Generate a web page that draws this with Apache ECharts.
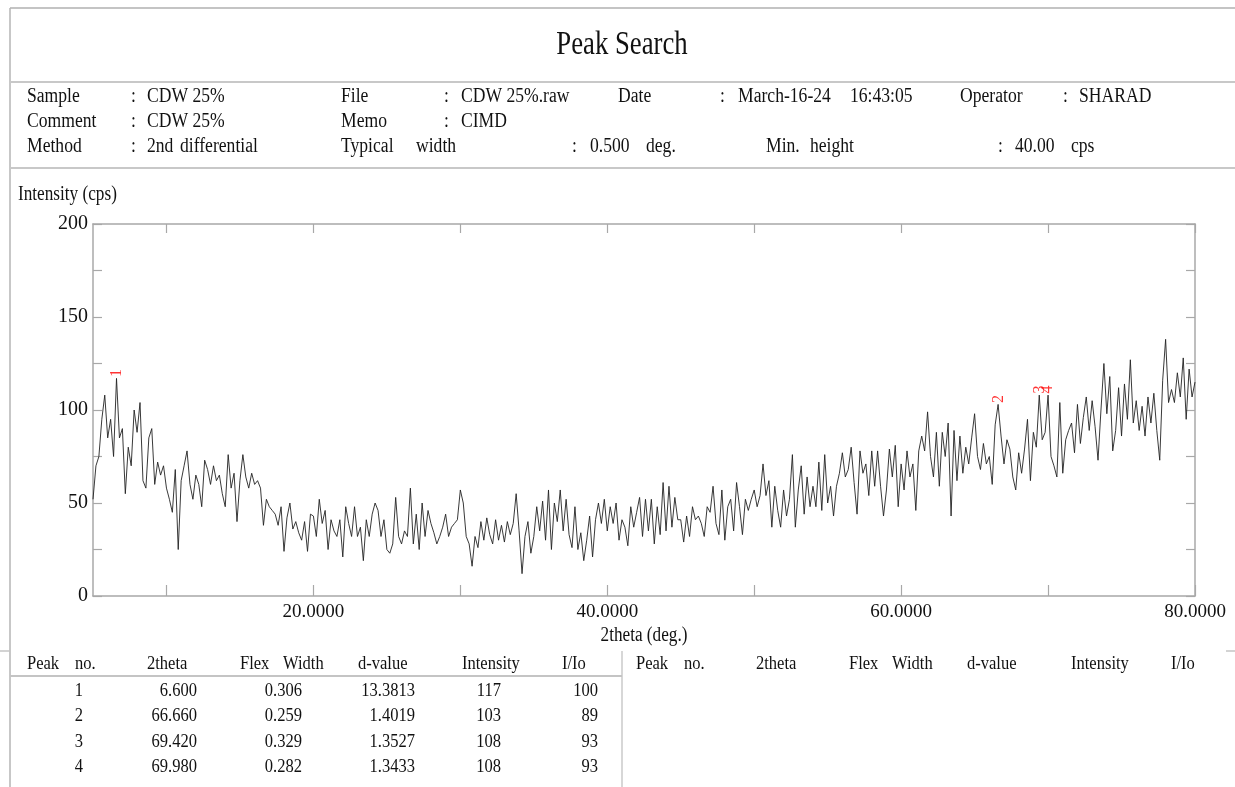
<!DOCTYPE html>
<html>
<head>
<meta charset="utf-8">
<script src="https://cdn.jsdelivr.net/npm/echarts@6/dist/echarts.min.js"></script>
<style>
html,body{margin:0;padding:0;background:#fff;}
#chart{width:1235px;height:787px;}
</style>
</head>
<body>
<div id="chart"></div>
<script>
// ---- data (2theta from 5.0 deg, step 0.2 deg) ----
const xStart = 5.0;
const xStep = 0.2;
const seg05 = [52,70,75,95,108,85,95,75,117,85,90,55,80,70,100,88,104,62,58,85,90,60,72,65,70];
const seg10 = [58,52,45,68,25,62,70,78,60,52,65,60,48,73,68,60,70,62,65,55,48,76,58,66,40];
const seg15 = [62,76,64,58,66,60,62,58,38,52,48,46,44,38,48,24,42,50,36,40,34,30,40,24,44];
const seg20 = [43,32,52,39,46,25,41,35,32,41,21,48,39,32,48,32,37,19,41,32,44,50,46,32,41];
const seg25 = [25,23,28,53,32,28,35,32,58,28,44,25,50,32,46,39,34,28,32,37,44,32,37,39,41];
const seg30 = [57,50,32,28,16,32,26,40,30,42,33,28,41,30,38,29,40,33,39,55,35,12,32,40,23];
const seg35 = [32,48,35,51,30,57,25,50,40,57,35,52,33,26,48,25,34,19,30,43,21,41,50,39,52];
const seg40 = [35,48,39,50,30,41,37,27,48,37,45,53,32,52,35,52,28,48,33,61,35,59,37,53,41];
const seg45 = [41,29,43,32,48,41,43,39,32,48,45,59,39,33,57,30,48,52,35,61,48,33,52,46,52];
const seg50 = [57,48,54,71,54,62,37,59,46,37,57,43,52,76,37,57,70,44,64,48,59,48,72,46,76];
const seg55 = [50,59,43,59,66,77,64,68,80,61,44,78,66,71,54,78,59,78,59,43,57,79,64,81,48];
const seg60 = [71,57,78,64,71,46,78,86,78,99,75,64,88,59,88,75,93,43,89,62,86,66,80,71,85];
const seg65 = [98,75,68,82,71,75,60,92,103,86,71,84,79,64,57,77,66,79,95,62,88,80,108,84,88];
const seg70 = [108,75,70,64,104,66,84,89,93,77,103,82,96,107,89,105,91,73,100,125,98,118,78,89,112];
const seg75 = [86,114,95,127,93,105,89,102,86,107,93,109,89,73,116,138,104,111,104,120,107,128,95,122,107,115];

// peak table
const peakNo = [1, 2, 3, 4];
const peak2theta = [6.600, 66.660, 69.420, 69.980];
const flexWidth = [0.306, 0.259, 0.329, 0.282];
const dValue = [13.3813, 1.4019, 1.3527, 1.3433];
const peakIntensity = [117, 103, 108, 108];
const peakIIo = [100, 89, 93, 93];

// axis ticks / labels
const xLabelValues = [20, 40, 60, 80];
const xTickValues = [10, 20, 30, 40, 50, 60, 70, 80];
const yLabelValues = [0, 50, 100, 150, 200];
const yTickValues = [0, 25, 50, 75, 100, 125, 150, 175, 200];

const values = [].concat(seg05, seg10, seg15, seg20, seg25, seg30, seg35, seg40, seg45, seg50, seg55, seg60, seg65, seg70, seg75);
const lineData = values.map((v, i) => [Math.round((xStart + i * xStep) * 100) / 100, v]);
const peakData = peakNo.map((n, i) => [peak2theta[i], peakIntensity[i], n]);

// ---- layout helpers ----
const FONT = '"Liberation Serif", "Times New Roman", serif';
const G = [];
function txt(text, x, y, size, opts) {
  opts = opts || {};
  G.push({
    type: 'text', x: x, y: y, scaleX: opts.sx || 0.88, silent: true,
    style: {
      text: text, fill: '#111', font: size + 'px ' + FONT,
      textAlign: opts.align || 'left', textVerticalAlign: 'middle'
    }
  });
}
function line(x1, y1, x2, y2, c, w) {
  G.push({ type: 'line', silent: true, shape: { x1, y1, x2, y2 }, style: { stroke: c || '#bdbdbd', lineWidth: w || 1.5 } });
}

// frame lines
line(10, 8, 1235, 8, '#c4c4c4', 2);
line(10, 8, 10, 787, '#b5b5b5', 1.5);
line(10, 82, 1235, 82, '#c8c8c8', 2);
line(10, 168, 1235, 168, '#c8c8c8', 2);
line(0, 651, 10, 651, '#c4c4c4', 1.5);
line(1226, 651, 1235, 651, '#c4c4c4', 1.5);
line(622, 651, 622, 787, '#bdbdbd', 1.2);
line(10, 676, 622, 676, '#c4c4c4', 2);

// title
txt('Peak Search', 622, 45, 33, { align: 'center', sx: 0.81 });

// header block
const hs = 20;
const rowY = [97, 122, 147];
[
  ['Sample', 27, 0], [':', 131, 0], ['CDW 25%', 147, 0],
  ['File', 341, 0], [':', 444, 0], ['CDW 25%.raw', 461, 0],
  ['Date', 618, 0], [':', 720, 0], ['March-16-24', 738, 0], ['16:43:05', 850, 0],
  ['Operator', 960, 0], [':', 1063, 0], ['SHARAD', 1079, 0],
  ['Comment', 27, 1], [':', 131, 1], ['CDW 25%', 147, 1],
  ['Memo', 341, 1], [':', 444, 1], ['CIMD', 461, 1],
  ['Method', 27, 2], [':', 131, 2], ['2nd', 147, 2], ['differential', 180, 2],
  ['Typical', 341, 2], ['width', 416, 2], [':', 572, 2], ['0.500', 590, 2], ['deg.', 646, 2],
  ['Min.', 766, 2], ['height', 810, 2], [':', 998, 2], ['40.00', 1015, 2], ['cps', 1071, 2]
].forEach(h => txt(h[0], h[1], rowY[h[2]], hs));

// axis titles
txt('Intensity (cps)', 18, 195, 20, { sx: 0.86 });
txt('2theta (deg.)', 644, 636, 20, { align: 'center', sx: 0.86 });

// table headers (left and right halves)
const ts = 19;
const thY = 664;
[[27, 'Peak'], [75, 'no.'], [147, '2theta'], [240, 'Flex'], [283, 'Width'], [358, 'd-value'], [462, 'Intensity'], [562, 'I/Io']]
  .forEach(h => { txt(h[1], h[0], thY, ts, { sx: 0.87 }); txt(h[1], h[0] + 609, thY, ts, { sx: 0.87 }); });

// table rows
const rowYs = [691, 716, 742, 767];
peakNo.forEach((n, i) => {
  const y = rowYs[i];
  txt(String(n), 83, y, ts, { align: 'right', sx: 0.87 });
  txt(peak2theta[i].toFixed(3), 197, y, ts, { align: 'right', sx: 0.87 });
  txt(flexWidth[i].toFixed(3), 302, y, ts, { align: 'right', sx: 0.87 });
  txt(dValue[i].toFixed(4), 415, y, ts, { align: 'right', sx: 0.87 });
  txt(String(peakIntensity[i]), 501, y, ts, { align: 'right', sx: 0.87 });
  txt(String(peakIIo[i]), 598, y, ts, { align: 'right', sx: 0.87 });
});

const axisGray = '#a8a8a8';
const chart = echarts.init(document.getElementById('chart'), null, { renderer: 'canvas' });
chart.setOption({
  animation: false,
  backgroundColor: '#ffffff',
  grid: { left: 93, right: 40, top: 224, bottom: 191, containLabel: false },
  xAxis: [
    {
      type: 'value', min: 5, max: 80, position: 'bottom',
      axisLine: { show: true, onZero: false, lineStyle: { color: axisGray, width: 1.5 } },
      axisTick: { show: true, inside: true, length: 11, customValues: xTickValues, lineStyle: { color: axisGray, width: 1.2 } },
      axisLabel: { show: true, customValues: xLabelValues, formatter: v => Number(v).toFixed(4), color: '#111', fontFamily: FONT, fontSize: 19, margin: 7 },
      splitLine: { show: false }
    },
    {
      type: 'value', min: 5, max: 80, position: 'top',
      axisLine: { show: true, onZero: false, lineStyle: { color: axisGray, width: 1.5 } },
      axisTick: { show: true, inside: true, length: 9, customValues: xTickValues, lineStyle: { color: axisGray, width: 1.2 } },
      axisLabel: { show: false },
      splitLine: { show: false }
    }
  ],
  yAxis: [
    {
      type: 'value', min: 0, max: 200, position: 'left',
      axisLine: { show: true, onZero: false, lineStyle: { color: axisGray, width: 1.5 } },
      axisTick: { show: true, inside: true, length: 9, customValues: yTickValues, lineStyle: { color: axisGray, width: 1.2 } },
      axisLabel: { show: true, customValues: yLabelValues, color: '#111', fontFamily: FONT, fontSize: 20, margin: 5 },
      splitLine: { show: false }
    },
    {
      type: 'value', min: 0, max: 200, position: 'right',
      axisLine: { show: true, onZero: false, lineStyle: { color: axisGray, width: 1.5 } },
      axisTick: { show: true, inside: true, length: 9, customValues: yTickValues, lineStyle: { color: axisGray, width: 1.2 } },
      axisLabel: { show: false },
      splitLine: { show: false }
    }
  ],
  series: [
    {
      type: 'line', xAxisIndex: 0, yAxisIndex: 0, data: lineData,
      showSymbol: false, symbol: 'none', silent: true,
      lineStyle: { color: '#222222', width: 0.9 }
    },
    {
      type: 'scatter', xAxisIndex: 0, yAxisIndex: 0, data: peakData,
      symbol: 'circle', symbolSize: 1, silent: true,
      itemStyle: { color: 'rgba(255,0,0,0)' },
      label: {
        show: true, position: 'top', distance: 1, rotate: 90,
        align: 'left', verticalAlign: 'middle',
        formatter: p => String(p.data[2]),
        color: '#ff0000', fontFamily: FONT, fontSize: 16
      },
      z: 5
    }
  ],
  graphic: G
});
</script>
</body>
</html>
